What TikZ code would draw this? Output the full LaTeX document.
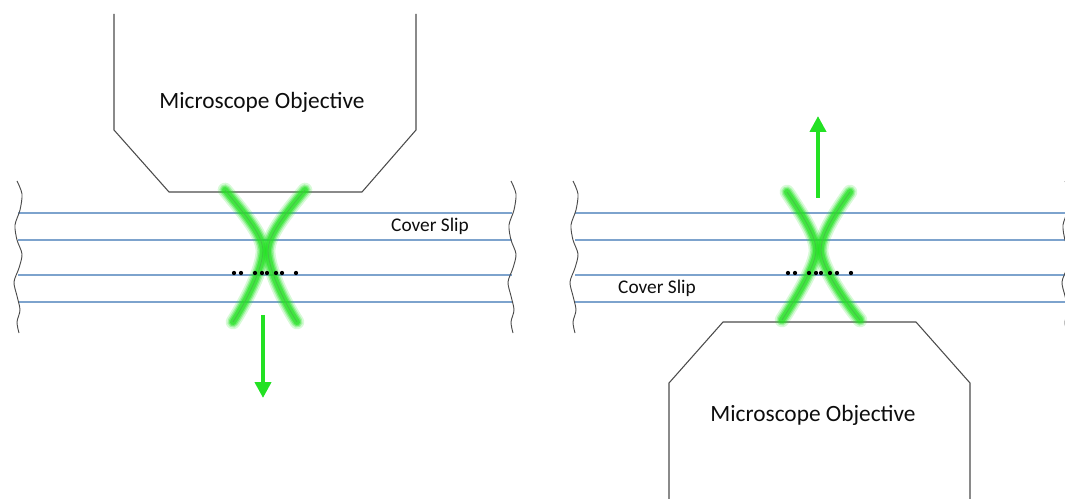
\documentclass[tikz,border=0pt]{standalone}
\usepackage{fontspec}
\setmainfont{Carlito}
\usetikzlibrary{arrows.meta}
\definecolor{slipblue}{RGB}{125,163,205}
\definecolor{objgray}{RGB}{75,75,75}
\definecolor{beamgreen}{RGB}{35,225,35}
\definecolor{beamcore}{RGB}{70,195,70}
\tikzset{
  slip/.style={draw=slipblue, line width=0.9pt},
  slipedge/.style={draw=objgray, line width=0.7pt},
  objective/.style={draw=objgray, line width=0.8pt},
  objlabel/.style={font=\fontsize{17.5}{20}\selectfont, text=black!95, inner sep=0pt, anchor=base},
  sliplabel/.style={font=\fontsize{14.5}{17}\selectfont, text=black!95, inner sep=0pt, anchor=base},
  particle/.style={circle, fill=black, inner sep=0pt, minimum size=3.2pt},
  move/.style={draw=beamgreen, line width=3.6pt, -{Triangle[length=12pt,width=12pt]}},
}
% wavy torn edge of the slide stack
\newcommand{\tornedge}[1]{%
  \draw[slipedge] plot[smooth] coordinates {(#1+0,181) (#1+5,194) (#1+3,210) (#1-2,225) (#1+0,240) (#1+5,254) (#1+2,268) (#1-3,282) (#1+0,296) (#1+3,310) (#1+0,322) (#1+2,333)};}
% glowing focused beam
\newcommand{\beam}[1]{%
  \foreach \w/\o in {11/0.18, 8.5/0.28, 6.5/0.42, 4.5/0.6}
    \draw[beamgreen, line width=\w pt, opacity=\o, line cap=round] #1;
  \draw[beamcore, line width=0.6pt] #1;}
\begin{document}
\begin{tikzpicture}[x=0.75pt, y=-0.75pt]
\useasboundingbox (0,0) rectangle (1065,499);
\clip (0,0) rectangle (1065,499);

\begin{scope}[shift={(265,0)}]
\foreach \y in {213,240,275,302}
  \draw[slip] (-247,\y) -- (247,\y);
\tornedge{-248}
\tornedge{246}
\draw[objective] (-151,14) -- (-151,130) -- (-96,192) -- (97,192) -- (151,130) -- (151,14);
\node[objlabel] (objA) at (-3,109) {Microscope Objective};
\node[sliplabel] (slipA) at (165,232) {Cover Slip};
\beam{(-40,190) .. controls (-15,220) and (-3,236) .. (-2,250) .. controls (-2,268) and (-18,300) .. (-32,322)}
\beam{(40,190) .. controls (15,220) and (4,236) .. (3,250) .. controls (3,268) and (18,300) .. (32,322)}
\foreach[count=\i] \x in {-31,-24,-10,-3,2,11,17,31}
  \node[particle] (dotA\i) at (\x,273) {};
\coordinate (downfrom) at (-2,315);
\coordinate (downto) at (-2,398);
\draw[move] (downfrom) -- (downto);
\end{scope}

\begin{scope}[shift={(818,0)}]
\foreach \y in {213,240,275,302}
  \draw[slip] (-243,\y) -- (247,\y);
\tornedge{-245}
\tornedge{247}
\draw[objective] (-149,499) -- (-149,383) -- (-95,322) -- (98,322) -- (152,383) -- (152,499);
\node[objlabel] (objB) at (-5,421) {Microscope Objective};
\node[sliplabel] (slipB) at (-161,294) {Cover Slip};
\beam{(-31,192) .. controls (-12,220) and (-2,238) .. (-2,250) .. controls (-2,265) and (-20,295) .. (-36,320)}
\beam{(32,192) .. controls (12,220) and (3,238) .. (3,250) .. controls (3,265) and (22,295) .. (42,320)}
\foreach[count=\i] \x in {-30,-23,-9,-2,3,12,19,33}
  \node[particle] (dotB\i) at (\x,273) {};
\coordinate (upfrom) at (0,198);
\coordinate (upto) at (0,116);
\draw[move] (upfrom) -- (upto);
\end{scope}
\end{tikzpicture}
\end{document}
